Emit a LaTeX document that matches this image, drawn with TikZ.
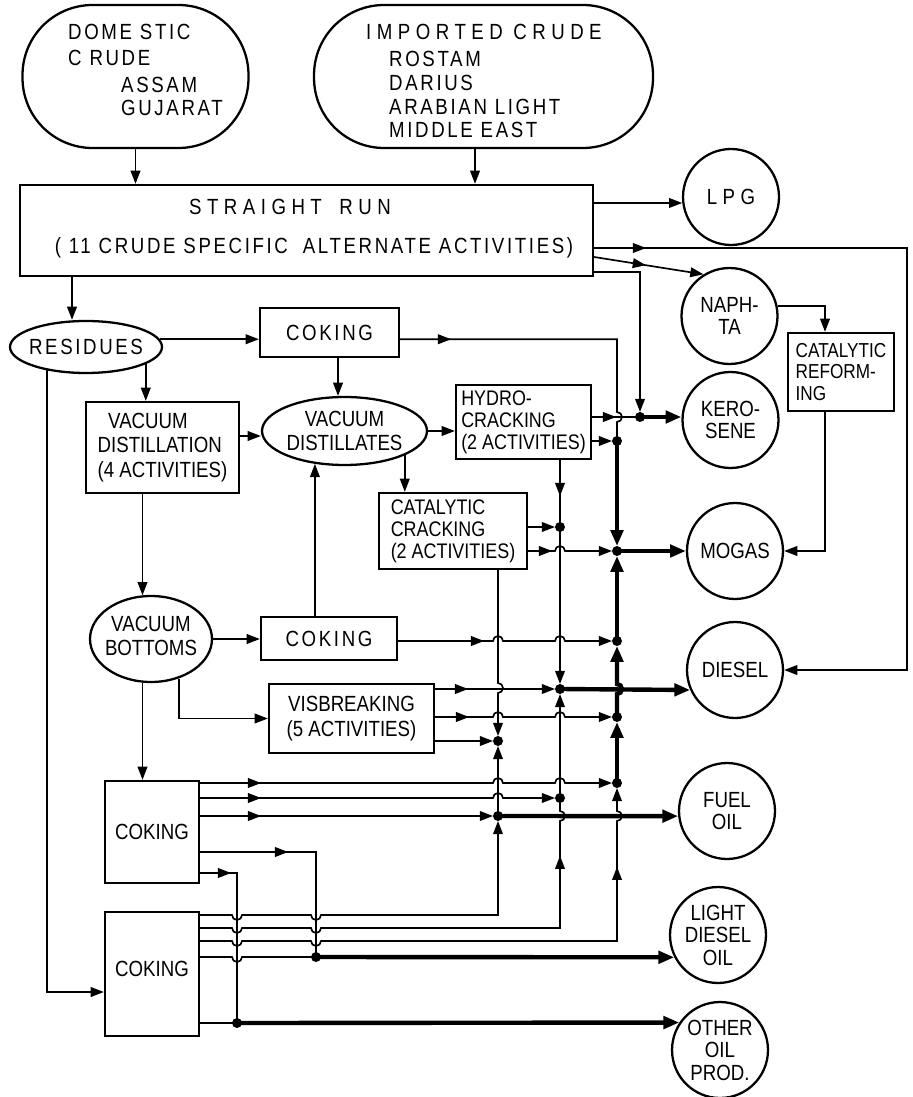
\documentclass[tikz,border=0pt]{standalone}
\usepackage{fontspec}
\setmainfont{Liberation Sans}[FakeStretch=0.85]
\newfontfamily\spaced{Liberation Sans}[FakeStretch=0.85,LetterSpace=12]
\newfontfamily\wide{Liberation Sans}[FakeStretch=0.85,LetterSpace=25]
\usetikzlibrary{arrows.meta,decorations.markings,shapes.geometric}

% small hops where two lines cross
\newcommand{\hopup}[2]{-- (#1-5,#2) arc[start angle=180,end angle=0,radius=0.1cm]}
\newcommand{\hopdn}[2]{-- (#1-5,#2) arc[start angle=180,end angle=360,radius=0.1cm]}
\newcommand{\hopv}[2]{-- (#1,#2-5) arc[start angle=90,end angle=-90,radius=0.1cm]}
\newcommand{\hopvu}[2]{-- (#1,#2+5) arc[start angle=-90,end angle=90,radius=0.1cm]}

\tikzset{
  box/.style={draw, line width=1.3pt, inner sep=1pt},
  oval/.style={draw, ellipse, line width=1.3pt, inner sep=0pt},
  crude/.style={draw, rectangle, rounded corners=1.4cm, line width=1.3pt},
  prod/.style={draw, circle, line width=1.3pt, inner sep=0pt, minimum size=1.92cm,
    align=center, font=\fontsize{12.5}{12.8}\selectfont},
  flow/.style={line width=0.95pt},
  main/.style={line width=2.5pt},
  tip/.style={-{Triangle[length=7.5pt,width=5.5pt]}},
  bigtip/.style={-{Triangle[length=9pt,width=7pt]}},
  todot/.style={shorten >=0.1cm},
  midtip/.style={postaction={decorate,decoration={markings,
    mark=at position #1 with {\arrow{Triangle[length=7.5pt,width=5.5pt]}}}}},
}

\begin{document}
\begin{tikzpicture}[x=0.02cm, y=-0.02cm, font=\fontsize{12.5}{14}\selectfont]
\useasboundingbox (0,0) rectangle (912,1097);

% crude inputs
\node[crude, minimum width=4.52cm, minimum height=2.86cm] (dom) at (135.5,76.5) {};
\node[anchor=west] (domt1) at (62,32) {\spaced DOME STIC};
\node[anchor=west] (domt2) at (62,58) {\spaced C RUDE};
\node[anchor=west] (domt3) at (115,85) {\spaced ASSAM};
\node[anchor=west] (domt4) at (115,108) {\spaced GUJARAT};

\node[crude, minimum width=6.78cm, minimum height=2.86cm] (imp) at (483.5,76.5) {};
\node[anchor=west] (impt1) at (360,32) {\wide IMPORTED\hspace{6pt}CRUDE};
\node[anchor=west] (impt2) at (383,59) {\spaced ROSTAM};
\node[anchor=west] (impt3) at (383,83) {\spaced DARIUS};
\node[anchor=west] (impt4) at (383,107) {\spaced ARABIAN LIGHT};
\node[anchor=west] (impt5) at (383,130) {\spaced MIDDLE EAST};

% straight run
\node[box, minimum width=11.46cm, minimum height=1.82cm] (srun) at (306.5,230.5) {};
\node (srunt1) at (290,207) {\wide STRAIGHT\hspace{10pt}RUN};
\node (srunt2) at (314,248) {\spaced ( 11 CRUDE SPECIFIC\hspace{4pt} ALTERNATE ACTIVITIES)};

% products
\node[prod] (lpg) at (731,197) {\wide LPG};
\node[prod] (naph) at (729.5,316) {NAPH-\\TA};
\node[prod] (kero) at (730.5,420) {KERO-\\SENE};
\node[prod] (mogas) at (735,551) {MOGAS};
\node[prod] (diesel) at (735,670) {DIESEL};
\node[prod] (fuel) at (727,811) {FUEL\\OIL};
\node[prod] (ldo) at (718,935) {LIGHT\\DIESEL\\OIL};
\node[prod] (oop) at (720,1050) {OTHER\\OIL\\PROD.};
\node[box, minimum width=2.12cm, minimum height=1.56cm, align=left,
  font=\fontsize{11.5}{12}\selectfont] (ref) at (841,372) {CATALYTIC\\REFORM-\\ING};

% processing units
\node[oval, minimum width=3.04cm, minimum height=1.04cm] (res) at (86,347) {};
\node (rest) at (res) {\spaced RESIDUES};
\node[box, minimum width=2.78cm, minimum height=0.98cm] (cok1) at (329.5,332.5) {\spaced COKING};
\node[box, minimum width=3.06cm, minimum height=1.82cm, align=left] (vdist) at (162.5,447.5)
  {\hspace{6pt}VACUUM\\DISTILLATION\\(4 ACTIVITIES)};
\node[oval, minimum width=3.3cm, minimum height=1.36cm] (vdis) at (344.5,431) {};
\node[align=center] (vdist2) at (vdis) {VACUUM\\DISTILLATES};
\node[box, minimum width=2.7cm, minimum height=1.48cm, align=left,
  font=\fontsize{12}{12.5}\selectfont] (hyd) at (523.5,422) {HYDRO-\\CRACKING\\(2 ACTIVITIES)};
\node[box, minimum width=2.96cm, minimum height=1.52cm, align=left,
  font=\fontsize{12}{12.5}\selectfont] (ccr) at (453,531) {CATALYTIC\\CRACKING\\(2 ACTIVITIES)};
\node[oval, minimum width=2.44cm, minimum height=1.72cm] (vbot) at (151,639) {};
\node[align=center] (vbott) at (151,636) {VACUUM\\BOTTOMS};
\node[box, minimum width=2.72cm, minimum height=0.86cm] (cok2) at (329,638.5) {\spaced COKING};
\node[box, minimum width=3.3cm, minimum height=1.38cm, align=center] (visb) at (351.5,718.5)
  {VISBREAKING\\(5 ACTIVITIES)};
\node[box, minimum width=1.88cm, minimum height=2.04cm] (cok3) at (152,832) {COKING};
\node[box, minimum width=1.88cm, minimum height=2.48cm] (cok4) at (152,974) {\raisebox{0.22cm}{COKING}};

% junctions
\coordinate (jk) at (640,417);
\coordinate (jb) at (617,441);
\coordinate (jc) at (560,527);
\coordinate (jm) at (617,551);
\coordinate (jb2) at (617,641);
\coordinate (jd) at (560,689);
\coordinate (jb3) at (617,717);
\coordinate (jv) at (498,741);
\coordinate (jb4) at (617,783);
\coordinate (jc2) at (560,798);
\coordinate (jf) at (498,816);
\coordinate (jl) at (316,957);
\coordinate (jo) at (237,1023);
\coordinate (xi) at (475,0);
\coordinate (xres) at (72,0);
\coordinate (xc) at (338,0);
\coordinate (xref) at (825,0);

% crude to straight run
\draw[flow,tip] (dom.south) -- (srun.north -| dom.south);
\draw[flow,tip] (imp.south -| xi) -- (srun.north -| xi);

% straight run outputs
\draw[flow,tip] (srun.east |- lpg.187) -- (lpg.187);
\draw[flow,tip,midtip=1.04cm] (srun.east |- 0,248) -| (907,670) -- (diesel.east);
\draw[flow,tip,midtip=1.05cm] (srun.east |- 0,257) -- (naph.122);
\draw[flow,tip,todot] (srun.east |- 0,272) -| (jk);
\draw[flow,tip] (srun.south -| xres) -- (res.north -| xres);
\draw[flow,tip] (naph.12) -| (ref.north -| xref);
\draw[flow,tip] (ref.south -| xref) |- (mogas.east);

% residues
\draw[flow,tip] (res.6) -- (cok1.west |- res.6);
\draw[flow,tip] (res.-16) -- (res.-16 |- vdist.north);
\draw[flow,tip] (res.211) |- (cok4.west |- 0,992);
\draw[flow,tip] (cok1.south -| xc) -- (vdis.north -| xc);
\draw[flow,midtip=1.02cm] (cok1.east |- res.6) -- (jb |- res.6) \hopv{617}{417} -- (jb);
\draw[flow,tip] (vdist.east |- 0,436) -- (vdis.west |- 0,436);
\draw[flow,tip] (vdis.east) -- (hyd.west |- vdis.east);
\draw[flow,tip] (vdis.-22) -- (vdis.-22 |- ccr.north);
\draw[flow,tip] (vdist.south -| vbot.101) -- (vbot.101);

% vacuum bottoms
\draw[flow,tip] (vbot.east) -- (cok2.west |- vbot.east);
\draw[flow,tip] (vbot.-55) |- (visb.west);
\draw[flow,tip] (vbot.-101) -- (vbot.-101 |- cok3.north);
\draw[flow,tip] (cok2.north -| vdis.228) -- (vdis.228);

% hydrocracking and catalytic cracking
\draw[flow,midtip=0.48cm] (hyd.east |- jk) -- (jk);
\draw[flow,tip,todot] (hyd.east |- jb) -- (jb);
\draw[flow,tip,todot,midtip=0.72cm] (hyd.south -| jc) -- (jc) -- (jd);
\draw[flow,tip,todot] (ccr.east |- jc) -- (jc);
\draw[flow,tip,todot,midtip=0.48cm] (ccr.east |- jm) \hopup{560}{551} -- (jm);
\draw[flow,tip,todot] (ccr.south -| jv) \hopv{498}{688} -- (jv);

% coking and visbreaking
\draw[flow,tip,todot,midtip=1.72cm] (cok2.east |- jb2) \hopup{498}{641} \hopup{560}{641} -- (jb2);
\draw[flow,tip,todot,midtip=0.66cm] (visb.east |- jd) -- (jd);
\draw[flow,tip,todot,midtip=0.68cm] (visb.east |- jb3) \hopup{498}{717} \hopup{560}{717} -- (jb3);
\draw[flow,tip,todot] (visb.east |- jv) -- (jv);

% gasoline bus
\draw[main,bigtip,todot] (jb) -- (jm);
\draw[main,bigtip,todot] (jb2) -- (jm);
\draw[main,bigtip,todot] (jb3) \hopvu{617}{689} -- (jb2);
\draw[main,bigtip,todot] (jb4) -- (jb3);

% bottom cokers
\draw[flow,tip,todot,midtip=1.22cm] (cok3.east |- jb4) \hopup{498}{783} \hopup{560}{783} -- (jb4);
\draw[flow,tip,todot,midtip=1.22cm] (cok3.east |- jc2) \hopup{498}{798} -- (jc2);
\draw[flow,tip,todot,midtip=1.22cm] (cok3.east |- jf) -- (jf);
\draw[flow,midtip=1.76cm] (cok3.east |- 0,852) -| (jl);
\draw[flow,midtip=0.62cm] (cok3.east |- 0,873) -| (jo);
\draw[flow,tip,todot] (cok4.east |- 0,915) \hopdn{237}{915} \hopdn{316}{915} -- (jf |- 0,915) -- (jf);
\draw[flow,midtip=8.87cm] (cok4.east |- 0,928) \hopdn{237}{928} \hopdn{316}{928} -- (jc2 |- 0,928) \hopvu{560}{816} -- (jc2);
\draw[flow,tip,todot,midtip=10.05cm] (cok4.east |- 0,941) \hopdn{237}{941} \hopdn{316}{941} -- (jb4 |- 0,941) \hopvu{617}{816} -- (jb4);
\draw[flow] (cok4.east |- jl) \hopdn{237}{957} -- (jl);
\draw[flow] (cok4.east |- jo) -- (jo);
\draw[flow,tip,todot] (jc2) -- (jd);
\draw[flow,tip,todot] (jf) -- (jv);

% to products
\draw[main,bigtip] (jk) -- (kero.west |- jk);
\draw[main,bigtip] (jm) -- (mogas.west |- jm);
\draw[main,bigtip] (jd) -- (diesel.204);
\draw[main,bigtip] (jf) -- (fuel.186);
\draw[main,bigtip] (jl) -- (ldo.207);
\draw[main,bigtip] (jo) -- (oop.146);

% dots
\fill (jk) circle (0.1cm) (jb) circle (0.1cm) (jc) circle (0.1cm) (jm) circle (0.1cm)
  (jb2) circle (0.1cm) (jd) circle (0.1cm) (jb3) circle (0.1cm) (jv) circle (0.1cm)
  (jb4) circle (0.1cm) (jc2) circle (0.1cm) (jf) circle (0.1cm) (jl) circle (0.1cm)
  (jo) circle (0.1cm);

\end{tikzpicture}
\end{document}
